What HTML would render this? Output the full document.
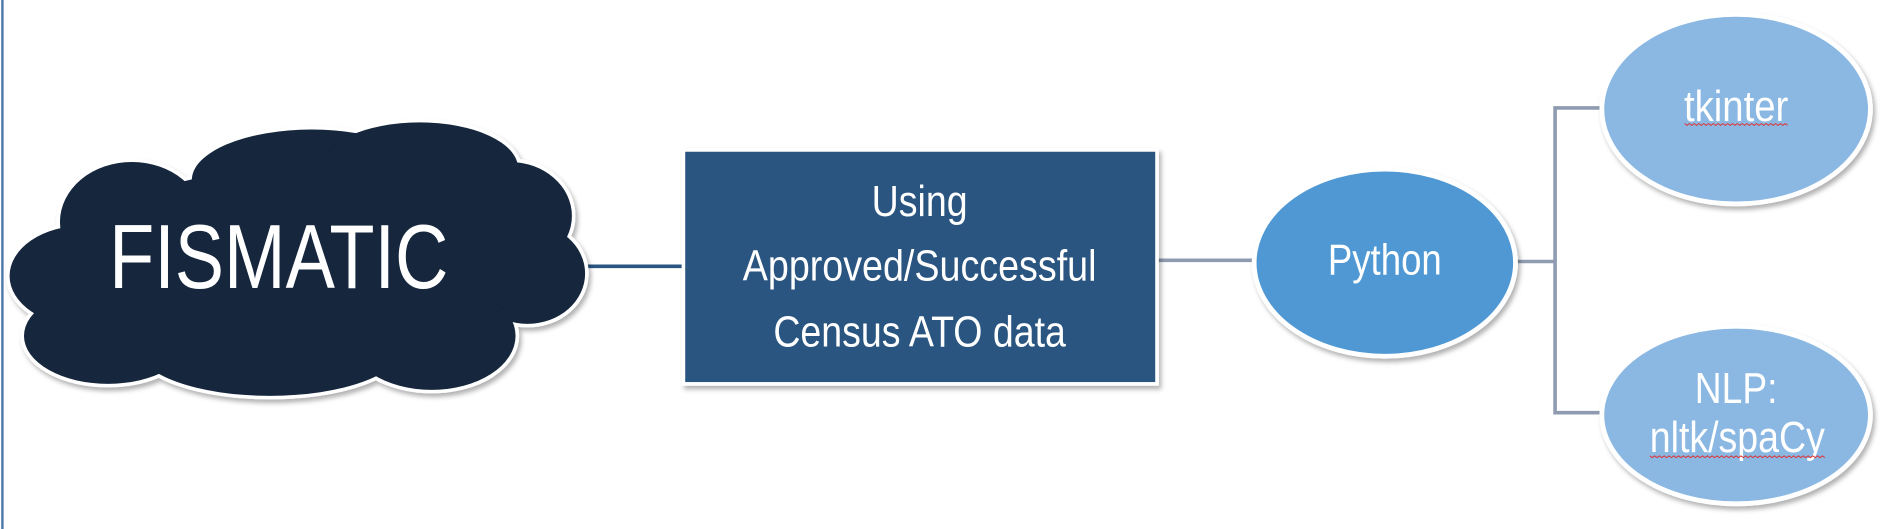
<!DOCTYPE html>
<html><head><style>html,body{margin:0;padding:0;background:#fff;}svg{display:block}</style></head>
<body>
<svg width="1880" height="529" viewBox="0 0 1568 441" preserveAspectRatio="none" xmlns="http://www.w3.org/2000/svg" font-family="Liberation Sans, sans-serif">
<defs>
<filter id="sh" x="-10%" y="-10%" width="120%" height="130%"><feDropShadow dx="2" dy="3" stdDeviation="2" flood-color="#000" flood-opacity="0.3"/></filter>
</defs>
<line x1="2" y1="0" x2="2" y2="441" stroke="#4a78a8" stroke-width="2"/>
<line x1="488" y1="222" x2="572" y2="222" stroke="#2a5580" stroke-width="3"/>
<line x1="965" y1="217" x2="1050" y2="217" stroke="#8f9bb0" stroke-width="3"/>
<polyline points="1262,218 1297,218" stroke="#8f9bb0" stroke-width="3" fill="none"/>
<polyline points="1340,90 1297,90 1297,344 1340,344" stroke="#8f9bb0" stroke-width="3" fill="none"/>
<g filter="url(#sh)">
<g fill="#fff" stroke="#fff" stroke-width="6">
<ellipse cx="110" cy="185" rx="60" ry="50"/><ellipse cx="260" cy="150" rx="100" ry="42"/><ellipse cx="350" cy="140" rx="82" ry="38"/><ellipse cx="425" cy="180" rx="52" ry="45"/><ellipse cx="440" cy="228" rx="48" ry="42"/><ellipse cx="70" cy="230" rx="62" ry="42"/><ellipse cx="90" cy="280" rx="70" ry="40"/><ellipse cx="225" cy="290" rx="110" ry="40"/><ellipse cx="360" cy="280" rx="70" ry="45"/><ellipse cx="250" cy="220" rx="190" ry="80"/>
</g>
<g fill="#12263d">
<ellipse cx="110" cy="185" rx="60" ry="50"/><ellipse cx="260" cy="150" rx="100" ry="42"/><ellipse cx="350" cy="140" rx="82" ry="38"/><ellipse cx="425" cy="180" rx="52" ry="45"/><ellipse cx="440" cy="228" rx="48" ry="42"/><ellipse cx="70" cy="230" rx="62" ry="42"/><ellipse cx="90" cy="280" rx="70" ry="40"/><ellipse cx="225" cy="290" rx="110" ry="40"/><ellipse cx="360" cy="280" rx="70" ry="45"/><ellipse cx="250" cy="220" rx="190" ry="80"/>
</g>
</g>
<text x="91" y="240" font-size="76" fill="#fff" textLength="283" lengthAdjust="spacingAndGlyphs">FISMATIC</text>
<rect x="570" y="125" width="395" height="195" fill="#2a5580" stroke="#fff" stroke-width="3" filter="url(#sh)"/>
<g fill="#fff" font-size="36" text-anchor="middle">
<text x="767" y="180" textLength="80" lengthAdjust="spacingAndGlyphs">Using</text>
<text x="767" y="234" textLength="295" lengthAdjust="spacingAndGlyphs">Approved/Successful</text>
<text x="767" y="289" textLength="244" lengthAdjust="spacingAndGlyphs">Census ATO data</text>
</g>
<ellipse cx="1155" cy="219" rx="109" ry="78" fill="#4f98d4" stroke="#fff" stroke-width="4" filter="url(#sh)"/>
<text x="1155" y="229" font-size="36" fill="#fff" text-anchor="middle" textLength="95" lengthAdjust="spacingAndGlyphs">Python</text>
<ellipse cx="1448" cy="91" rx="112" ry="79" fill="#8bb8e2" stroke="#fff" stroke-width="4" filter="url(#sh)"/>
<text x="1448" y="101" font-size="36" fill="#fff" text-anchor="middle" textLength="87" lengthAdjust="spacingAndGlyphs">tkinter</text>
<ellipse cx="1448" cy="346" rx="112" ry="74" fill="#8bb8e2" stroke="#fff" stroke-width="4" filter="url(#sh)"/>
<text x="1448" y="336" font-size="36" fill="#fff" text-anchor="middle" textLength="69" lengthAdjust="spacingAndGlyphs">NLP:</text>
<text x="1449" y="377" font-size="36" fill="#fff" text-anchor="middle" textLength="146" lengthAdjust="spacingAndGlyphs">nltk/spaCy</text>
<g stroke="#e03030" stroke-width="0.8" fill="none">
<polyline points="1405,103 1407,104.5 1409,103 1411,104.5 1413,103 1415,104.5 1417,103 1419,104.5 1421,103 1423,104.5 1425,103 1427,104.5 1429,103 1431,104.5 1433,103 1435,104.5 1437,103 1439,104.5 1441,103 1443,104.5 1445,103 1447,104.5 1449,103 1451,104.5 1453,103 1455,104.5 1457,103 1459,104.5 1461,103 1463,104.5 1465,103 1467,104.5 1469,103 1471,104.5 1473,103 1475,104.5 1477,103 1479,104.5 1481,103 1483,104.5 1485,103 1487,104.5 1489,103 1491,104.5"/>
<polyline points="1376,380 1378,381.5 1380,380 1382,381.5 1384,380 1386,381.5 1388,380 1390,381.5 1392,380 1394,381.5 1396,380 1398,381.5 1400,380 1402,381.5 1404,380 1406,381.5 1408,380 1410,381.5 1412,380 1414,381.5 1416,380 1418,381.5 1420,380 1422,381.5 1424,380 1426,381.5 1428,380 1430,381.5 1432,380 1434,381.5 1436,380 1438,381.5 1440,380 1442,381.5 1444,380 1446,381.5 1448,380 1450,381.5 1452,380 1454,381.5 1456,380 1458,381.5 1460,380 1462,381.5 1464,380 1466,381.5 1468,380 1470,381.5 1472,380 1474,381.5 1476,380 1478,381.5 1480,380 1482,381.5 1484,380 1486,381.5 1488,380 1490,381.5 1492,380 1494,381.5 1496,380 1498,381.5 1500,380 1502,381.5 1504,380 1506,381.5 1508,380 1510,381.5 1512,380 1514,381.5 1516,380 1518,381.5 1520,380 1522,381.5"/>
</g>
</svg>
</body></html>
